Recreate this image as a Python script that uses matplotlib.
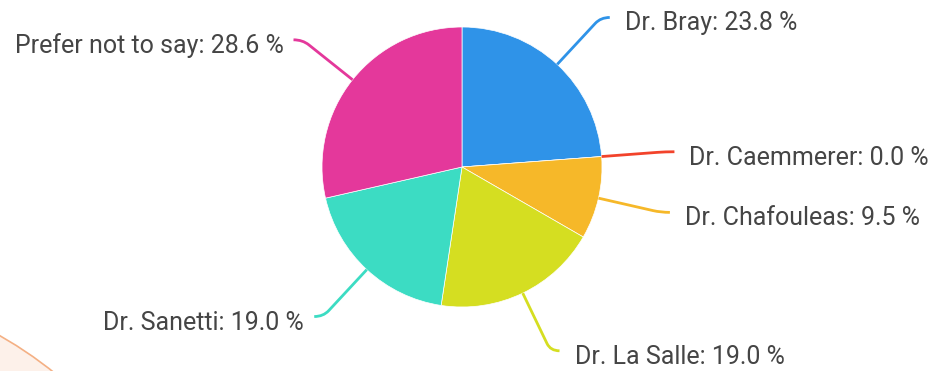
import matplotlib
matplotlib.use('Agg')
import matplotlib.pyplot as plt
import numpy as np
from matplotlib.patches import Circle, PathPatch
from matplotlib.path import Path

# survey answers (counts out of 21 responses)
names = ['Dr. Bray', 'Dr. Caemmerer', 'Dr. Chafouleas', 'Dr. La Salle',
         'Dr. Sanetti', 'Prefer not to say']
votes = [5, 0, 2, 4, 4, 6]
colors = ['#2f93e8', '#f2432b', '#f6b829', '#d5de21', '#3cdcc3', '#e4389b']

plt.rcParams['font.family'] = ['Roboto', 'DejaVu Sans']

W, H = 937, 371
fig = plt.figure(figsize=(W / 100, H / 100), dpi=100)
ax = fig.add_axes([0, 0, 1, 1])

cx, cy, R = 462, H - 167, 140
wedges, _ = ax.pie(votes, colors=colors, startangle=90, counterclock=False,
                   center=(cx, cy), radius=R,
                   wedgeprops=dict(edgecolor='white', linewidth=0.5))
ax.set_xlim(0, W)
ax.set_ylim(0, H)
ax.set_aspect('equal')
ax.axis('off')

# slide decoration in the lower left corner
ax.add_patch(Circle((-200, H - 688), 405, facecolor='#fdf1ea',
                    edgecolor='#f4b084', linewidth=1.2, zorder=0))

total = sum(votes)
for w, name, v, col in zip(wedges, names, votes, colors):
    ang = np.deg2rad((w.theta1 + w.theta2) / 2)
    d = np.array([np.cos(ang), np.sin(ang)])
    c = np.array([cx, cy])
    sign = 1 if d[0] > 0 else -1
    p0 = c + R * d
    pa = c + 196 * d
    p1 = c + 204 * d
    p2 = p1 + np.array([sign * 9, 0])
    path = Path([p0, pa, p1, p2], [Path.MOVETO, Path.LINETO, Path.CURVE3, Path.CURVE3])
    ax.add_patch(PathPatch(path, facecolor='none', edgecolor=col, linewidth=2, zorder=3))
    label = f"{name}: {100 * v / total:.1f} %"
    gap = 15 if sign > 0 else 10
    ax.text(p2[0] + sign * gap, p2[1] - 6, label, ha='left' if sign > 0 else 'right',
            va='center', fontsize=18, color='#454545')

fig.savefig('out.png', dpi=100)
